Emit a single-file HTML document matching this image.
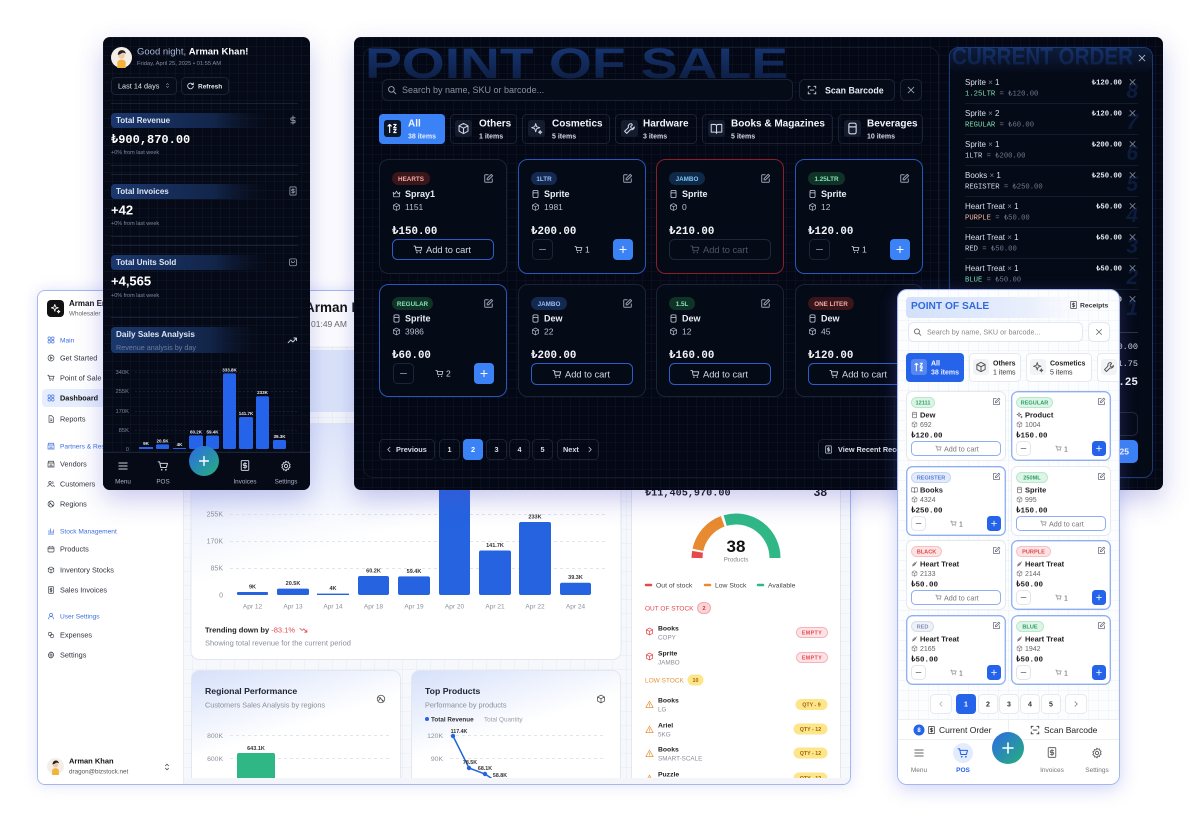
<!DOCTYPE html>
<html><head><meta charset="utf-8">
<style>
*{box-sizing:border-box;margin:0;padding:0}
html,body{width:1200px;height:817px}
body{position:relative;overflow:hidden;background:#fff;font-family:"Liberation Sans",Arial,sans-serif}
.clip{position:absolute;overflow:hidden}
.in{position:absolute;width:1200px;height:817px}
svg.pg{position:absolute;left:0;top:0}
</style></head><body>
<svg width="0" height="0" style="position:absolute">
<defs>
<linearGradient id="bigg" x1="0" y1="0" x2="0" y2="1"><stop offset="0" stop-color="#19397a"/><stop offset="1" stop-color="#0b1a3a"/></linearGradient>
<linearGradient id="bandg" x1="0" y1="0" x2="1" y2="0"><stop offset="0" stop-color="#1b386e"/><stop offset="0.65" stop-color="#122549"/><stop offset="1" stop-color="#0a1224" stop-opacity="0"/></linearGradient>
<linearGradient id="fabg" x1="0" y1="0" x2="1" y2="1"><stop offset="0" stop-color="#2d6ae8"/><stop offset="1" stop-color="#25b07a"/></linearGradient>
<linearGradient id="lband" x1="0" y1="0" x2="1" y2="0"><stop offset="0" stop-color="#d3e0fb"/><stop offset="0.6" stop-color="#e9effc"/><stop offset="1" stop-color="#ffffff" stop-opacity="0"/></linearGradient>
<linearGradient id="cardg" x1="0" y1="0" x2="0.5" y2="1"><stop offset="0" stop-color="#d5e0fa"/><stop offset="0.55" stop-color="#ffffff"/></linearGradient>
<linearGradient id="coh" x1="0" y1="0" x2="0" y2="1"><stop offset="0" stop-color="#0e1d3d"/><stop offset="1" stop-color="#050a17"/></linearGradient>
<symbol id="cart" viewBox="0 0 16 16"><g fill="none" stroke="currentColor" stroke-width="1.4" stroke-linecap="round" stroke-linejoin="round"><path d="M1.5 2.5h2l1.6 7.5h7.4l1.5-5.5H4.2"/></g><circle cx="6.3" cy="13" r="1.1" fill="currentColor"/><circle cx="11.8" cy="13" r="1.1" fill="currentColor"/></symbol>
<symbol id="edit" viewBox="0 0 16 16"><g fill="none" stroke="currentColor" stroke-width="1.4" stroke-linecap="round" stroke-linejoin="round"><path d="M7.5 2.5H3.5a1 1 0 0 0-1 1v9a1 1 0 0 0 1 1h9a1 1 0 0 0 1-1v-4"/><path d="M12 2l2 2-6 6H6V8z"/></g></symbol>
<symbol id="box" viewBox="0 0 16 16"><g fill="none" stroke="currentColor" stroke-width="1.3" stroke-linejoin="round"><path d="M8 1.8l5.5 2.9v6.6L8 14.2l-5.5-2.9V4.7z M2.5 4.7L8 7.6l5.5-2.9 M8 7.6v6.6"/></g></symbol>
<symbol id="cup" viewBox="0 0 16 16"><g fill="none" stroke="currentColor" stroke-width="1.4" stroke-linejoin="round"><rect x="3.5" y="1.5" width="9" height="13" rx="2"/><path d="M3.5 6h9"/></g></symbol>
<symbol id="search" viewBox="0 0 16 16"><g fill="none" stroke="currentColor" stroke-width="1.5" stroke-linecap="round"><circle cx="7" cy="7" r="4.5"/><path d="M10.5 10.5L14 14"/></g></symbol>
<symbol id="x" viewBox="0 0 16 16"><g fill="none" stroke="currentColor" stroke-width="1.4" stroke-linecap="round"><path d="M3.5 3.5l9 9M12.5 3.5l-9 9"/></g></symbol>
<symbol id="scan" viewBox="0 0 16 16"><g fill="none" stroke="currentColor" stroke-width="1.4" stroke-linecap="round"><path d="M2 5V2h3 M11 2h3v3 M14 11v3h-3 M5 14H2v-3 M5 8h6"/></g></symbol>
<symbol id="menu" viewBox="0 0 16 16"><g fill="none" stroke="currentColor" stroke-width="1.4" stroke-linecap="round"><path d="M2.5 4h11M2.5 8h11M2.5 12h11"/></g></symbol>
<symbol id="gear" viewBox="0 0 16 16"><g fill="none" stroke="currentColor" stroke-width="1.3" stroke-linejoin="round"><circle cx="8" cy="8" r="2.2"/><path d="M8 1.5l1.3 1.6 2-.5.5 2 1.7 1.2-.9 1.8.9 1.8-1.7 1.2-.5 2-2-.5L8 14.5l-1.3-1.6-2 .5-.5-2-1.7-1.2.9-1.8-.9-1.8 1.7-1.2.5-2 2 .5z"/></g></symbol>
<symbol id="inv" viewBox="0 0 16 16"><g fill="none" stroke="currentColor" stroke-width="1.3" stroke-linecap="round"><rect x="3" y="1.5" width="10" height="13" rx="1"/><path d="M8 4v8 M10 5.5H7a1.2 1.2 0 0 0 0 2.5h2a1.2 1.2 0 0 1 0 2.5H6"/></g></symbol>
<symbol id="crown" viewBox="0 0 16 16"><g fill="none" stroke="currentColor" stroke-width="1.3" stroke-linejoin="round"><path d="M2 5l3 3 3-5 3 5 3-3-1 8H3z"/></g></symbol>
<symbol id="book" viewBox="0 0 16 16"><g fill="none" stroke="currentColor" stroke-width="1.3" stroke-linejoin="round"><path d="M1.5 3h4.5a2 2 0 0 1 2 2v9a1.5 1.5 0 0 0-1.5-1.5h-5z M14.5 3H10a2 2 0 0 0-2 2v9a1.5 1.5 0 0 1 1.5-1.5h5z"/></g></symbol>
<symbol id="wrench" viewBox="0 0 16 16"><g fill="none" stroke="currentColor" stroke-width="1.3" stroke-linejoin="round"><path d="M10 2a3.5 3.5 0 0 0-3.3 4.7L2 11.4 4.6 14l4.7-4.7A3.5 3.5 0 0 0 14 6l-2 2-2-.5L9.5 5.5 11.5 3.5A3.5 3.5 0 0 0 10 2z"/></g></symbol>
<symbol id="sparkle" viewBox="0 0 16 16"><g fill="none" stroke="currentColor" stroke-width="1.2" stroke-linejoin="round"><path d="M7 2l1.2 3.8L12 7l-3.8 1.2L7 12l-1.2-3.8L2 7l3.8-1.2z M12.5 10.5l.6 1.4 1.4.6-1.4.6-.6 1.4-.6-1.4-1.4-.6 1.4-.6z"/></g></symbol>
<symbol id="sort" viewBox="0 0 16 16"><g fill="none" stroke="currentColor" stroke-width="1.4" stroke-linecap="round" stroke-linejoin="round"><path d="M4.5 13V3 M2.5 5l2-2 2 2 M9.5 3h3l-3 4h3 M9.5 9h3l-3 4h3"/></g></symbol>
<symbol id="candy" viewBox="0 0 16 16"><g fill="none" stroke="currentColor" stroke-width="1.5" stroke-linecap="round"><path d="M3 13l10-10 M4 9l3 3 M6 7l3 3 M8 5l3 3"/></g></symbol>
<symbol id="dollar" viewBox="0 0 16 16"><g fill="none" stroke="currentColor" stroke-width="1.5" stroke-linecap="round"><path d="M8 1.5v13 M11.5 4.5H6.5a2 2 0 0 0 0 4h3a2 2 0 0 1 0 4H4.5"/></g></symbol>
<symbol id="bag" viewBox="0 0 16 16"><g fill="none" stroke="currentColor" stroke-width="1.3" stroke-linecap="round"><rect x="2.5" y="3" width="11" height="11" rx="2"/><path d="M5.5 6.5a2.5 2.5 0 0 0 5 0"/></g></symbol>
<symbol id="trend" viewBox="0 0 16 12"><g fill="none" stroke="currentColor" stroke-width="1.4" stroke-linecap="round" stroke-linejoin="round"><path d="M1.5 10l4-4 3 3 5.5-6 M10 3h4v4"/></g></symbol>
<symbol id="trendd" viewBox="0 0 16 12"><g fill="none" stroke="currentColor" stroke-width="1.4" stroke-linecap="round" stroke-linejoin="round"><path d="M1.5 2l4 4 3-3 5.5 6 M10 9h4V5"/></g></symbol>
<symbol id="globe" viewBox="0 0 16 16"><g fill="none" stroke="currentColor" stroke-width="1.3"><circle cx="8" cy="8" r="6"/><path d="M3.5 4.5l9 7 M4 11l3-5 4 6"/></g></symbol>
<symbol id="chev" viewBox="0 0 16 16"><g fill="none" stroke="currentColor" stroke-width="1.4" stroke-linecap="round"><path d="M5.5 6L8 3.5 10.5 6 M5.5 10L8 12.5 10.5 10"/></g></symbol>
<symbol id="chl" viewBox="0 0 16 16"><path d="M10 3.5L5.5 8l4.5 4.5" fill="none" stroke="currentColor" stroke-width="1.5" stroke-linecap="round"/></symbol>
<symbol id="chr" viewBox="0 0 16 16"><path d="M6 3.5L10.5 8 6 12.5" fill="none" stroke="currentColor" stroke-width="1.5" stroke-linecap="round"/></symbol>
<symbol id="play" viewBox="0 0 16 16"><g fill="none" stroke="currentColor" stroke-width="1.3"><circle cx="8" cy="8" r="6"/><path d="M6.5 5.5v5l4-2.5z"/></g></symbol>
<symbol id="grid4" viewBox="0 0 16 16"><g fill="none" stroke="currentColor" stroke-width="1.3"><rect x="2" y="2" width="5" height="5" rx="1.5"/><rect x="9" y="2" width="5" height="5" rx="1.5"/><rect x="2" y="9" width="5" height="5" rx="1.5"/><rect x="9" y="9" width="5" height="5" rx="1.5"/></g></symbol>
<symbol id="file" viewBox="0 0 16 16"><g fill="none" stroke="currentColor" stroke-width="1.3"><path d="M4 1.5h5.5L13 5v9.5H4z M6.5 8h4 M6.5 11h4"/></g></symbol>
<symbol id="users" viewBox="0 0 16 16"><g fill="none" stroke="currentColor" stroke-width="1.3"><circle cx="6" cy="5.5" r="2.5"/><path d="M1.5 14a4.5 4.5 0 0 1 9 0 M10.5 3.2a2.5 2.5 0 0 1 0 4.8 M12 10a4 4 0 0 1 2.5 4"/></g></symbol>
<symbol id="store" viewBox="0 0 16 16"><g fill="none" stroke="currentColor" stroke-width="1.3"><path d="M2 6l1-3.5h10L14 6v8H2z M2 6h12 M6 14v-4h4v4"/></g></symbol>
<symbol id="chart" viewBox="0 0 16 16"><g fill="none" stroke="currentColor" stroke-width="1.3"><path d="M2 14h12 M4 12V6 M7 12V3 M10 12V8 M13 12V5"/></g></symbol>
<symbol id="user" viewBox="0 0 16 16"><g fill="none" stroke="currentColor" stroke-width="1.3"><circle cx="8" cy="5.5" r="3"/><path d="M2.5 14.5a5.5 5.5 0 0 1 11 0"/></g></symbol>
<symbol id="pkg" viewBox="0 0 16 16"><g fill="none" stroke="currentColor" stroke-width="1.3"><rect x="2" y="4" width="12" height="10" rx="1.5"/><path d="M2 7.5h12 M5.5 4V2 M10.5 4V2"/></g></symbol>
<symbol id="coins" viewBox="0 0 16 16"><g fill="none" stroke="currentColor" stroke-width="1.3"><circle cx="6" cy="6" r="3.5"/><circle cx="10" cy="10" r="3.5"/></g></symbol>
<symbol id="warn" viewBox="0 0 16 16"><g fill="none" stroke="currentColor" stroke-width="1.3" stroke-linejoin="round" stroke-linecap="round"><path d="M8 2L14.5 13.5h-13z M8 6.5v3.5 M8 11.8v.2"/></g></symbol>
<symbol id="refresh" viewBox="0 0 16 16"><g fill="none" stroke="currentColor" stroke-width="1.5" stroke-linecap="round"><path d="M13 8a5 5 0 1 1-1.5-3.6 M13 2.5v3h-3"/></g></symbol>
<symbol id="plus" viewBox="0 0 16 16"><path d="M8 3v10M3 8h10" fill="none" stroke="currentColor" stroke-width="1.6" stroke-linecap="round"/></symbol>
<symbol id="minus" viewBox="0 0 16 16"><path d="M3 8h10" fill="none" stroke="currentColor" stroke-width="1.4" stroke-linecap="round"/></symbol>
<symbol id="ava" viewBox="0 0 20 20"><circle cx="10" cy="10" r="10" fill="#f3efe8"/><path d="M6 20v-5c0-2 2-3 4-3s4 1 4 3v5z" fill="#f2b33d"/><circle cx="10" cy="8" r="3.2" fill="#f1c9a5"/><path d="M6.5 7.5c0-3 2-4.5 4-4.5s3.5 1.5 3.5 3.5c-1-1-3-1.5-4-.5-1 .8-2.5 1.5-3.5 1.5z" fill="#222"/></symbol>
</defs></svg>

<!-- ================= LIGHT DASHBOARD ================= -->
<div class="clip" style="left:37px;top:290px;width:814px;height:495px;border:1px solid #a4b7f0;border-radius:8px;background-color:#f6f8fc;background-image:linear-gradient(rgba(120,140,180,.06) 1px,transparent 1px),linear-gradient(90deg,rgba(120,140,180,.06) 1px,transparent 1px);background-size:14px 14px;box-shadow:0 0 14px rgba(110,120,230,.22);z-index:1">
<div class="in" style="left:-38px;top:-291px">
<svg class="pg" width="1200" height="817" font-family="Liberation Sans, Arial, sans-serif">
<rect x="38" y="291" width="145" height="494" fill="#fff"/>
<line x1="183.5" y1="291" x2="183.5" y2="785" stroke="#e8ecf3"/>
<rect x="47" y="300" width="17" height="17" rx="4" fill="#111"/>
<use href="#sparkle" x="50" y="303" width="11" height="11" color="#fff"/>
<text x="69" y="306" font-size="8" font-weight="bold" fill="#111">Arman Enterprises</text>
<text x="69" y="315.5" font-size="6.3" fill="#666">Wholesaler</text>
<rect x="42" y="389" width="120" height="18" rx="4" fill="#e6edfc"/>
<g font-size="6.6" fill="#3b6fe0">
<use href="#grid4" x="47" y="336" width="8" height="8" color="#3b6fe0"/><text x="60" y="342.4">Main</text>
<use href="#store" x="47" y="442" width="8" height="8" color="#3b6fe0"/><text x="60" y="448.4">Partners &amp; Resellers</text>
<use href="#chart" x="47" y="527" width="8" height="8" color="#3b6fe0"/><text x="60" y="533.4">Stock Management</text>
<use href="#user" x="47" y="612" width="8" height="8" color="#3b6fe0"/><text x="60" y="618.4">User Settings</text>
</g>
<g font-size="7.3" fill="#2d323c" color="#3a3f4a">
<use href="#play" x="47" y="354" width="8" height="8"/><text x="60" y="360.6">Get Started</text>
<use href="#cart" x="47" y="374" width="8" height="8"/><text x="60" y="380.6">Point of Sale</text>
<use href="#grid4" x="47" y="394" width="8" height="8" color="#3b6fe0"/><text x="60" y="400.6" font-weight="bold" fill="#111">Dashboard</text>
<use href="#file" x="47" y="415" width="8" height="8"/><text x="60" y="421.6">Reports</text>
<use href="#store" x="47" y="460" width="8" height="8"/><text x="60" y="466.6">Vendors</text>
<use href="#users" x="47" y="480" width="8" height="8"/><text x="60" y="486.6">Customers</text>
<use href="#globe" x="47" y="500" width="8" height="8"/><text x="60" y="506.6">Regions</text>
<use href="#pkg" x="47" y="545" width="8" height="8"/><text x="60" y="551.6">Products</text>
<use href="#box" x="47" y="566" width="8" height="8"/><text x="60" y="572.6">Inventory Stocks</text>
<use href="#inv" x="47" y="586" width="8" height="8"/><text x="60" y="592.6">Sales Invoices</text>
<use href="#coins" x="47" y="631" width="8" height="8"/><text x="60" y="637.6">Expenses</text>
<use href="#gear" x="47" y="651" width="8" height="8"/><text x="60" y="657.6">Settings</text>
</g>
<use href="#ava" x="47" y="758" width="17" height="17"/>
<text x="69" y="763.5" font-size="7.5" font-weight="bold" fill="#111">Arman Khan</text>
<text x="69" y="773.5" font-size="6.3" fill="#555">dragon@bizstock.net</text>
<use href="#chev" x="162" y="762" width="10" height="10" color="#555"/>

<rect x="184" y="291" width="667" height="55" fill="#fff"/>
<text x="305" y="312" font-size="13.5" font-weight="bold" fill="#111">Arman Khan!</text>
<text x="311" y="327" font-size="8.5" fill="#666">01:49 AM</text>
<rect x="191" y="350" width="650" height="62" rx="8" fill="#dce5fa"/>
<rect x="191" y="423.5" width="430" height="236" rx="8" fill="url(#cardg)" stroke="#e2e7f0"/>
<rect x="631.5" y="423.5" width="209" height="370" rx="8" fill="#fff" stroke="#e2e7f0"/>
<rect x="191.5" y="670.5" width="209" height="130" rx="8" fill="url(#cardg)" stroke="#e2e7f0"/>
<rect x="411.5" y="670.5" width="209" height="130" rx="8" fill="url(#cardg)" stroke="#e2e7f0"/>

<g stroke="#e1e5ec" stroke-dasharray="3 3"><line x1="230" y1="514.5" x2="606" y2="514.5"/><line x1="230" y1="541.5" x2="606" y2="541.5"/><line x1="230" y1="568.5" x2="606" y2="568.5"/></g>
<g font-size="7" fill="#8b909a" text-anchor="end"><text x="223" y="516.5">255K</text><text x="223" y="543.5">170K</text><text x="223" y="570.5">85K</text><text x="223" y="597.5">0</text></g>
<g fill="#2563e0">
<rect x="237" y="592" width="31" height="3" rx="1"/><rect x="277" y="588.6" width="32" height="6.4" rx="1.5"/><rect x="317" y="593.6" width="32" height="1.4"/>
<rect x="358" y="576" width="31" height="19" rx="2"/><rect x="398" y="576.4" width="32" height="18.6" rx="2"/><rect x="439" y="485" width="31" height="110" rx="2"/>
<rect x="479" y="550.5" width="32" height="44.5" rx="2"/><rect x="519" y="522" width="32" height="73" rx="2"/><rect x="560" y="582.7" width="31" height="12.3" rx="2"/>
</g>
<g font-size="5.5" font-weight="bold" fill="#333" text-anchor="middle">
<text x="252.5" y="588.5">9K</text><text x="293" y="585">20.5K</text><text x="333" y="590">4K</text><text x="373.5" y="572.5">60.2K</text><text x="414" y="573">59.4K</text><text x="495" y="547">141.7K</text><text x="535" y="518.5">233K</text><text x="575.5" y="579">39.3K</text>
</g>
<g font-size="6.5" fill="#8b909a" text-anchor="middle">
<text x="252.5" y="608.5">Apr 12</text><text x="293" y="608.5">Apr 13</text><text x="333" y="608.5">Apr 14</text><text x="373.5" y="608.5">Apr 18</text><text x="414" y="608.5">Apr 19</text><text x="454.5" y="608.5">Apr 20</text><text x="495" y="608.5">Apr 21</text><text x="535" y="608.5">Apr 22</text><text x="575.5" y="608.5">Apr 24</text>
</g>
<text x="205" y="632.6" font-size="7.5" font-weight="bold" fill="#222">Trending down by <tspan font-weight="normal" fill="#e5484d">-83.1%</tspan></text>
<use href="#trendd" x="299" y="627" width="9" height="7" color="#e5484d"/>
<text x="205" y="645.6" font-size="7.5" fill="#8a8f99">Showing total revenue for the current period</text>

<text x="205" y="694" font-size="8.7" font-weight="bold" fill="#1d2230">Regional Performance</text>
<text x="205" y="707.5" font-size="7.3" fill="#8a8f99">Customers Sales Analysis by regions</text>
<use href="#globe" x="376" y="694" width="10" height="10" color="#555"/>
<g stroke="#e1e5ec" stroke-dasharray="3 3"><line x1="230" y1="735.5" x2="392" y2="735.5"/><line x1="230" y1="758.5" x2="392" y2="758.5"/></g>
<g font-size="6.8" fill="#8b909a" text-anchor="end"><text x="223" y="737.8">800K</text><text x="223" y="760.8">600K</text></g>
<rect x="237" y="753" width="38" height="40" rx="2" fill="#2fb886"/>
<text x="256" y="750" font-size="5.5" font-weight="bold" fill="#333" text-anchor="middle">643.1K</text>

<text x="425" y="694" font-size="8.7" font-weight="bold" fill="#1d2230">Top Products</text>
<text x="425" y="707.5" font-size="7.3" fill="#8a8f99">Performance by products</text>
<use href="#box" x="596" y="694" width="10" height="10" color="#555"/>
<circle cx="427" cy="719" r="2" fill="#2563e0"/>
<text x="431" y="721.3" font-size="6.3" font-weight="bold" fill="#333">Total Revenue</text>
<text x="484" y="721.3" font-size="6.3" fill="#9a9ea8">Total Quantity</text>
<g stroke="#e1e5ec" stroke-dasharray="3 3"><line x1="450" y1="735.5" x2="606" y2="735.5"/><line x1="450" y1="758.5" x2="606" y2="758.5"/></g>
<g font-size="6.8" fill="#8b909a" text-anchor="end"><text x="443" y="737.8">120K</text><text x="443" y="760.8">90K</text></g>
<polyline points="453,736 469,768 485,774 491,778 505,792" fill="none" stroke="#2563e0" stroke-width="1.5"/>
<g fill="#2563e0"><circle cx="453" cy="736" r="2.2"/><circle cx="469" cy="768" r="2.2"/><circle cx="485" cy="774" r="2.2"/></g>
<g font-size="5.3" font-weight="bold" fill="#333" text-anchor="middle"><text x="459" y="733">117.4K</text><text x="470" y="764">78.5K</text><text x="485" y="770">68.1K</text><text x="500" y="777">58.8K</text></g>

<text x="645" y="495.5" font-size="10.2" font-weight="bold" font-family="Liberation Mono, DejaVu Sans Mono, monospace" fill="#111">₺11,405,970.00</text>
<text x="827" y="496" font-size="12" font-weight="bold" fill="#111" text-anchor="end">38</text>
<g fill="none" stroke-width="11">
<path d="M697 558 A39 39 0 0 1 697.6 551.8" stroke="#e5484d"/>
<path d="M697.9 549.8 A39 39 0 0 1 722.7 521.3" stroke="#e88a2f"/>
<path d="M725.2 520.5 A39 39 0 0 1 775 558" stroke="#2fb886"/>
</g>
<text x="736" y="552" font-size="17" font-weight="bold" fill="#111" text-anchor="middle">38</text>
<text x="736" y="561.5" font-size="6.3" fill="#888" text-anchor="middle">Products</text>
<g stroke-width="2.5" stroke-linecap="round"><line x1="646" y1="585" x2="651" y2="585" stroke="#e5484d"/><line x1="705" y1="585" x2="710" y2="585" stroke="#e88a2f"/><line x1="758" y1="585" x2="763" y2="585" stroke="#2fb886"/></g>
<g font-size="6.8" fill="#444"><text x="656" y="587.5">Out of stock</text><text x="715" y="587.5">Low Stock</text><text x="768" y="587.5">Available</text></g>
<text x="645" y="610.3" font-size="6.5" fill="#e5484d">OUT OF STOCK</text>
<rect x="697.5" y="602.5" width="13" height="11" rx="5.5" fill="#fcd3d6" stroke="#f2a8ae"/>
<text x="704" y="610.2" font-size="5.5" font-weight="bold" fill="#d33" text-anchor="middle">2</text>
<use href="#box" x="645" y="627" width="9" height="9" color="#e5484d"/>
<use href="#box" x="645" y="652" width="9" height="9" color="#e5484d"/>
<g font-size="6.8" font-weight="bold" fill="#222"><text x="658" y="630.5">Books</text><text x="658" y="655.5">Sprite</text><text x="658" y="702.5">Books</text><text x="658" y="727.5">Ariel</text><text x="658" y="751.5">Books</text><text x="658" y="776.5">Puzzle</text></g>
<g font-size="6.3" fill="#8a8f99"><text x="658" y="639.5">COPY</text><text x="658" y="664.5">JAMBO</text><text x="658" y="711.5">LG</text><text x="658" y="736.5">5KG</text><text x="658" y="760.5">SMART-SCALE</text></g>
<g fill="#fde3e6" stroke="#f5b3b9"><rect x="796.5" y="627.5" width="31" height="10" rx="5"/><rect x="796.5" y="652.5" width="31" height="10" rx="5"/></g>
<g font-size="5.3" font-weight="bold" fill="#e5484d" text-anchor="middle" letter-spacing=".4"><text x="812" y="634.6">EMPTY</text><text x="812" y="659.6">EMPTY</text></g>
<text x="645" y="682.3" font-size="6.5" fill="#e8913a">LOW STOCK</text>
<rect x="687.5" y="674.5" width="16" height="11" rx="5.5" fill="#fde68a"/>
<text x="695.5" y="682" font-size="5.3" font-weight="bold" fill="#a16207" text-anchor="middle">10</text>
<g color="#e8913a"><use href="#warn" x="645" y="700" width="9" height="9"/><use href="#warn" x="645" y="725" width="9" height="9"/><use href="#warn" x="645" y="749" width="9" height="9"/><use href="#warn" x="645" y="774" width="9" height="9"/></g>
<g fill="#fde68a"><rect x="795.5" y="699" width="32" height="11" rx="5.5"/><rect x="793.5" y="723.5" width="34" height="11" rx="5.5"/><rect x="793.5" y="747.5" width="34" height="11" rx="5.5"/><rect x="793.5" y="772.5" width="34" height="11" rx="5.5"/></g>
<g font-size="5.3" font-weight="bold" fill="#a16207" text-anchor="middle"><text x="811.5" y="706.5">QTY - 9</text><text x="810.5" y="731">QTY - 12</text><text x="810.5" y="755">QTY - 12</text><text x="810.5" y="780">QTY - 12</text></g>
<rect x="184" y="778" width="667" height="8" fill="#f3f5fa"/>
</svg>
</div></div>

<!-- ================= DARK MOBILE ================= -->
<div class="clip" style="left:103px;top:37px;width:207px;height:453px;border-radius:7px;background-color:#060a16;background-image:linear-gradient(rgba(40,60,110,.13) 1px,transparent 1px),linear-gradient(90deg,rgba(40,60,110,.13) 1px,transparent 1px);background-size:9px 9px;box-shadow:0 10px 26px rgba(80,80,200,.3);z-index:3">
<div class="in" style="left:-103px;top:-37px">
<svg class="pg" width="1200" height="817" font-family="Liberation Sans, Arial, sans-serif">
<use href="#ava" x="111" y="47" width="21" height="21"/>
<text x="137" y="54.5" font-size="9.5" fill="#a9b8d6">Good night, <tspan fill="#fff" font-weight="bold">Arman Khan!</tspan></text>
<text x="137" y="65.2" font-size="5.8" fill="#7e8aa5">Friday, April 25, 2025 • 01:55 AM</text>
<rect x="111.5" y="77.5" width="65" height="17" rx="4" fill="#070c19" stroke="#1b2336"/>
<text x="118" y="88.5" font-size="7.3" fill="#e3e7ef">Last 14 days</text>
<use href="#chev" x="164" y="82" width="7" height="7" color="#8a93a6"/>
<rect x="181.5" y="77.5" width="47" height="17" rx="4" fill="#070c19" stroke="#1b2336"/>
<use href="#refresh" x="186" y="81.5" width="9" height="9" color="#dfe4ee"/>
<text x="198" y="88.3" font-size="6.5" font-weight="bold" fill="#e3e7ef">Refresh</text>
<g stroke="#172034"><line x1="111" y1="103.5" x2="298" y2="103.5"/><line x1="111" y1="165.5" x2="298" y2="165.5"/><line x1="111" y1="174.5" x2="298" y2="174.5"/><line x1="111" y1="236.5" x2="298" y2="236.5"/><line x1="111" y1="245.5" x2="298" y2="245.5"/><line x1="111" y1="317.5" x2="298" y2="317.5"/></g>
<rect x="111" y="113" width="160" height="15" rx="4" fill="url(#bandg)"/>
<rect x="111" y="184" width="160" height="15" rx="4" fill="url(#bandg)"/>
<rect x="111" y="255" width="160" height="15" rx="4" fill="url(#bandg)"/>
<g font-size="8" font-weight="bold" fill="#dfe6f4"><text x="116" y="123.2">Total Revenue</text><text x="116" y="194.2">Total Invoices</text><text x="116" y="265.2">Total Units Sold</text></g>
<use href="#dollar" x="288" y="114" width="10" height="12" color="#8e98ab"/>
<use href="#inv" x="288" y="185" width="10" height="12" color="#8e98ab"/>
<use href="#bag" x="288" y="256" width="10" height="12" color="#8e98ab"/>
<text x="111" y="143.2" font-size="12" font-weight="bold" font-family="Liberation Mono, DejaVu Sans Mono, monospace" fill="#fff">₺900,870.00</text>
<text x="111" y="214.5" font-size="13" font-weight="bold" fill="#fff">+42</text>
<text x="111" y="285.5" font-size="13" font-weight="bold" fill="#fff">+4,565</text>
<g font-size="5.5" fill="#7e8aa5"><text x="111" y="154">+0% from last week</text><text x="111" y="225">+0% from last week</text><text x="111" y="297">+0% from last week</text></g>
<rect x="111" y="327" width="152" height="26" rx="4" fill="url(#bandg)"/>
<text x="116" y="337" font-size="8.2" font-weight="bold" fill="#dfe6f4">Daily Sales Analysis</text>
<text x="116" y="350" font-size="7.2" fill="#6c7b99">Revenue analysis by day</text>
<use href="#trend" x="287" y="336" width="11" height="8" color="#c9d0dd"/>
<g stroke="#151d2e" stroke-dasharray="2 2"><line x1="135" y1="372.5" x2="298" y2="372.5"/><line x1="135" y1="391.5" x2="298" y2="391.5"/><line x1="135" y1="411.5" x2="298" y2="411.5"/><line x1="135" y1="430.5" x2="298" y2="430.5"/></g>
<g font-size="5.8" fill="#7b8499" text-anchor="end"><text x="129" y="374">340K</text><text x="129" y="393">255K</text><text x="129" y="413">170K</text><text x="129" y="432">85K</text><text x="129" y="451">0</text></g>
<g fill="#2563eb">
<rect x="139" y="447" width="14" height="2"/><rect x="156" y="444.4" width="13" height="4.6" rx="1"/><rect x="173" y="448" width="13" height="1"/>
<rect x="189" y="435.4" width="14" height="13.6" rx="1.5"/><rect x="206" y="435.5" width="13" height="13.5" rx="1.5"/><rect x="223" y="373.4" width="13" height="75.6" rx="1.5"/>
<rect x="239" y="417" width="14" height="32" rx="1.5"/><rect x="256" y="396.2" width="13" height="52.8" rx="1.5"/><rect x="273" y="440" width="13" height="9" rx="1.5"/>
</g>
<g font-size="4.5" font-weight="bold" fill="#e6eaf2" text-anchor="middle">
<text x="146" y="445">9K</text><text x="162.5" y="442.4">20.5K</text><text x="179.5" y="446">4K</text><text x="196" y="433.4">60.2K</text><text x="212.5" y="433.5">59.4K</text><text x="229.5" y="371.4">333.8K</text><text x="246" y="415">141.7K</text><text x="262.5" y="394.2">233K</text><text x="279.5" y="438">39.3K</text>
</g>
<rect x="103" y="452" width="207" height="40" fill="#060a16"/>
<line x1="103" y1="452.5" x2="310" y2="452.5" stroke="#1a2233"/>
<g color="#c9d0dd"><use href="#menu" x="117" y="460" width="12" height="12"/><use href="#cart" x="157" y="460" width="12" height="12"/><use href="#inv" x="239" y="459" width="12" height="13"/><use href="#gear" x="280" y="460" width="12" height="12"/></g>
<g font-size="6.3" fill="#aab3c5" text-anchor="middle"><text x="123" y="483.5">Menu</text><text x="163" y="483.5">POS</text><text x="245" y="483.5">Invoices</text><text x="286" y="483.5">Settings</text></g>
<circle cx="204" cy="461" r="15" fill="url(#fabg)"/>
<use href="#plus" x="197" y="454" width="14" height="14" color="#fff"/>
</svg>
</div></div>

<!-- ================= DARK POS ================= -->
<div class="clip" style="left:354px;top:37px;width:809px;height:453px;border-radius:7px;background-color:#040814;background-image:linear-gradient(rgba(40,60,110,.12) 1px,transparent 1px),linear-gradient(90deg,rgba(40,60,110,.12) 1px,transparent 1px);background-size:9px 9px;box-shadow:0 10px 26px rgba(80,80,200,.3);z-index:3">
<div class="in" style="left:-354px;top:-37px">
<svg class="pg" width="1200" height="817" font-family="Liberation Sans, Arial, sans-serif">
<rect x="363.5" y="47.5" width="575" height="430" rx="10" fill="none" stroke="#131a2a"/>
<text x="365" y="78" font-size="43" font-weight="bold" textLength="423" lengthAdjust="spacingAndGlyphs" fill="url(#bigg)">POINT OF SALE</text>
<rect x="382.5" y="79.5" width="410" height="21" rx="5" fill="#060b18" stroke="#1a2234"/>
<use href="#search" x="387" y="85" width="10" height="10" color="#9aa3b5"/>
<text x="402" y="93.2" font-size="9" fill="#8891a4">Search by name, SKU or barcode...</text>
<rect x="799.5" y="79.5" width="95" height="21" rx="5" fill="#060b18" stroke="#1a2234"/>
<use href="#scan" x="807" y="85" width="10" height="10" color="#d0d6e2"/>
<text x="825" y="93.3" font-size="8.8" font-weight="bold" fill="#e6eaf2">Scan Barcode</text>
<rect x="900.5" y="79.5" width="21" height="21" rx="5" fill="#060b18" stroke="#1a2234"/>
<use href="#x" x="906" y="85" width="10" height="10" color="#9aa3b5"/>
<rect x="379" y="114" width="66" height="30" rx="4" fill="#3b82f6"/>
<rect x="384" y="120" width="17" height="17" rx="3" fill="#0b1529"/>
<use href="#sort" x="386" y="122" width="13" height="13" color="#fff"/>
<g fill="none" stroke="#1a2234"><rect x="450.5" y="114.5" width="66" height="29" rx="4"/><rect x="522.5" y="114.5" width="87" height="29" rx="4"/><rect x="615.5" y="114.5" width="81" height="29" rx="4"/><rect x="702.5" y="114.5" width="130" height="29" rx="4"/><rect x="838.5" y="114.5" width="84" height="29" rx="4"/></g>
<g fill="#141c2e"><rect x="455" y="120" width="17" height="17" rx="3"/><rect x="528" y="120" width="17" height="17" rx="3"/><rect x="621" y="120" width="17" height="17" rx="3"/><rect x="708" y="120" width="17" height="17" rx="3"/><rect x="844" y="120" width="17" height="17" rx="3"/></g>
<g color="#cfd5e1"><use href="#box" x="457" y="122" width="13" height="13"/><use href="#sparkle" x="530" y="122" width="13" height="13"/><use href="#wrench" x="623" y="122" width="13" height="13"/><use href="#book" x="710" y="122" width="13" height="13"/><use href="#cup" x="846" y="122" width="13" height="13"/></g>
<g font-size="10" font-weight="bold" fill="#f1f4f9"><text x="408" y="126.5">All</text><text x="479" y="126.5">Others</text><text x="552" y="126.5">Cosmetics</text><text x="643" y="126.5">Hardware</text><text x="731" y="126.5">Books &amp; Magazines</text><text x="867" y="126.5">Beverages</text></g>
<g font-size="7" font-weight="bold" fill="#d5dbe7"><text x="408" y="138.5" fill="#e3edff">38 items</text><text x="479" y="138.5">1 items</text><text x="552" y="138.5">5 items</text><text x="643" y="138.5">3 items</text><text x="731" y="138.5">5 items</text><text x="867" y="138.5">10 items</text></g>

<g transform="translate(379,159)">
<rect x="0.5" y="0.5" width="127" height="114" rx="9" fill="#050a17" stroke="#1b2335"/>
<rect x="13" y="13" width="38" height="13" rx="6.5" fill="#3a1519"/><text x="32" y="21.8" font-size="6.3" font-weight="bold" fill="#f3a9a9" text-anchor="middle">HEARTS</text>
<use href="#edit" x="104" y="14" width="11" height="11" color="#9aa3b5"/>
<use href="#crown" x="13" y="30.5" width="9" height="9" color="#c9d0dd"/><text x="26" y="38.2" font-size="9" font-weight="bold" fill="#e9edf5">Spray1</text>
<use href="#box" x="13" y="43.5" width="9" height="9" color="#a9b2c4"/><text x="26" y="51" font-size="8.5" fill="#b7bfd0">1151</text>
<text x="13" y="74.8" font-size="10.8" font-weight="bold" font-family="Liberation Mono, DejaVu Sans Mono, monospace" fill="#f2f4f8">₺150.00</text>
<rect x="13.5" y="80.5" width="101" height="20" rx="5" fill="none" stroke="#2b5cc9"/>
<use href="#cart" x="34" y="85.5" width="10" height="10" color="#d3d9e6"/><text x="47" y="94" font-size="9.3" fill="#d3d9e6">Add to cart</text>
</g>
<g transform="translate(518,159)">
<rect x="0.5" y="0.5" width="127" height="114" rx="9" fill="#050a17" stroke="#2857b8"/>
<rect x="13" y="13" width="26" height="13" rx="6.5" fill="#13294f"/><text x="26" y="21.8" font-size="6.3" font-weight="bold" fill="#9cbcf5" text-anchor="middle">1LTR</text>
<use href="#edit" x="104" y="14" width="11" height="11" color="#9aa3b5"/>
<use href="#cup" x="13" y="30.5" width="9" height="9" color="#c9d0dd"/><text x="26" y="38.2" font-size="9" font-weight="bold" fill="#e9edf5">Sprite</text>
<use href="#box" x="13" y="43.5" width="9" height="9" color="#a9b2c4"/><text x="26" y="51" font-size="8.5" fill="#b7bfd0">1981</text>
<text x="13" y="74.8" font-size="10.8" font-weight="bold" font-family="Liberation Mono, DejaVu Sans Mono, monospace" fill="#f2f4f8">₺200.00</text>
<rect x="14.5" y="80.5" width="20" height="20" rx="4" fill="none" stroke="#1c2437"/><use href="#minus" x="19.5" y="85.5" width="10" height="10" color="#8891a4"/>
<use href="#cart" x="56" y="86" width="9" height="9" color="#cfd6e4"/><text x="67" y="93.5" font-size="8.5" fill="#cfd6e4">1</text>
<rect x="95" y="80" width="20" height="21" rx="4" fill="#3b82f6"/><use href="#plus" x="100" y="85.5" width="10" height="10" color="#fff"/>
</g>
<g transform="translate(656,159)">
<rect x="0.5" y="0.5" width="127" height="114" rx="9" fill="#050a17" stroke="#8c1d2b"/>
<rect x="13" y="13" width="36" height="13" rx="6.5" fill="#0f2a49"/><text x="31" y="21.8" font-size="6.3" font-weight="bold" fill="#7fc3f5" text-anchor="middle">JAMBO</text>
<use href="#edit" x="104" y="14" width="11" height="11" color="#9aa3b5"/>
<use href="#cup" x="13" y="30.5" width="9" height="9" color="#c9d0dd"/><text x="26" y="38.2" font-size="9" font-weight="bold" fill="#e9edf5">Sprite</text>
<use href="#box" x="13" y="43.5" width="9" height="9" color="#a9b2c4"/><text x="26" y="51" font-size="8.5" fill="#b7bfd0">0</text>
<text x="13" y="74.8" font-size="10.8" font-weight="bold" font-family="Liberation Mono, DejaVu Sans Mono, monospace" fill="#f2f4f8">₺210.00</text>
<rect x="13.5" y="80.5" width="101" height="20" rx="5" fill="none" stroke="#1e2638"/>
<use href="#cart" x="34" y="85.5" width="10" height="10" color="#4d5669"/><text x="47" y="94" font-size="9.3" fill="#4d5669">Add to cart</text>
</g>
<g transform="translate(795,159)">
<rect x="0.5" y="0.5" width="127" height="114" rx="9" fill="#050a17" stroke="#2857b8"/>
<rect x="13" y="13" width="37" height="13" rx="6.5" fill="#0f3327"/><text x="31.5" y="21.8" font-size="6.3" font-weight="bold" fill="#86e0b5" text-anchor="middle">1.25LTR</text>
<use href="#edit" x="104" y="14" width="11" height="11" color="#9aa3b5"/>
<use href="#cup" x="13" y="30.5" width="9" height="9" color="#c9d0dd"/><text x="26" y="38.2" font-size="9" font-weight="bold" fill="#e9edf5">Sprite</text>
<use href="#box" x="13" y="43.5" width="9" height="9" color="#a9b2c4"/><text x="26" y="51" font-size="8.5" fill="#b7bfd0">12</text>
<text x="13" y="74.8" font-size="10.8" font-weight="bold" font-family="Liberation Mono, DejaVu Sans Mono, monospace" fill="#f2f4f8">₺120.00</text>
<rect x="14.5" y="80.5" width="20" height="20" rx="4" fill="none" stroke="#1c2437"/><use href="#minus" x="19.5" y="85.5" width="10" height="10" color="#8891a4"/>
<use href="#cart" x="56" y="86" width="9" height="9" color="#cfd6e4"/><text x="67" y="93.5" font-size="8.5" fill="#cfd6e4">1</text>
<rect x="95" y="80" width="20" height="21" rx="4" fill="#3b82f6"/><use href="#plus" x="100" y="85.5" width="10" height="10" color="#fff"/>
</g>
<g transform="translate(379,284)">
<rect x="0.5" y="0.5" width="127" height="112" rx="9" fill="#050a17" stroke="#2857b8"/>
<rect x="13" y="13" width="41" height="13" rx="6.5" fill="#0f3327"/><text x="33.5" y="21.8" font-size="6.3" font-weight="bold" fill="#86e0b5" text-anchor="middle">REGULAR</text>
<use href="#edit" x="104" y="14" width="11" height="11" color="#9aa3b5"/>
<use href="#cup" x="13" y="30" width="9" height="9" color="#c9d0dd"/><text x="26" y="37.5" font-size="9" font-weight="bold" fill="#e9edf5">Sprite</text>
<use href="#box" x="13" y="43" width="9" height="9" color="#a9b2c4"/><text x="26" y="50.3" font-size="8.5" fill="#b7bfd0">3986</text>
<text x="13" y="74" font-size="10.8" font-weight="bold" font-family="Liberation Mono, DejaVu Sans Mono, monospace" fill="#f2f4f8">₺60.00</text>
<rect x="14.5" y="79.5" width="20" height="20" rx="4" fill="none" stroke="#1c2437"/><use href="#minus" x="19.5" y="84.5" width="10" height="10" color="#8891a4"/>
<use href="#cart" x="56" y="85" width="9" height="9" color="#cfd6e4"/><text x="67" y="92.5" font-size="8.5" fill="#cfd6e4">2</text>
<rect x="95" y="79" width="20" height="21" rx="4" fill="#3b82f6"/><use href="#plus" x="100" y="84.5" width="10" height="10" color="#fff"/>
</g>
<g transform="translate(518,284)">
<rect x="0.5" y="0.5" width="127" height="112" rx="9" fill="#050a17" stroke="#1b2335"/>
<rect x="13" y="13" width="36" height="13" rx="6.5" fill="#13294f"/><text x="31" y="21.8" font-size="6.3" font-weight="bold" fill="#9cbcf5" text-anchor="middle">JAMBO</text>
<use href="#edit" x="104" y="14" width="11" height="11" color="#9aa3b5"/>
<use href="#cup" x="13" y="30" width="9" height="9" color="#c9d0dd"/><text x="26" y="37.5" font-size="9" font-weight="bold" fill="#e9edf5">Dew</text>
<use href="#box" x="13" y="43" width="9" height="9" color="#a9b2c4"/><text x="26" y="50.3" font-size="8.5" fill="#b7bfd0">22</text>
<text x="13" y="74" font-size="10.8" font-weight="bold" font-family="Liberation Mono, DejaVu Sans Mono, monospace" fill="#f2f4f8">₺200.00</text>
<rect x="13.5" y="79.5" width="101" height="21" rx="5" fill="none" stroke="#2b5cc9"/>
<use href="#cart" x="34" y="85" width="10" height="10" color="#d3d9e6"/><text x="47" y="93.5" font-size="9.3" fill="#d3d9e6">Add to cart</text>
</g>
<g transform="translate(656,284)">
<rect x="0.5" y="0.5" width="127" height="112" rx="9" fill="#050a17" stroke="#1b2335"/>
<rect x="13" y="13" width="26" height="13" rx="6.5" fill="#0f3327"/><text x="26" y="21.8" font-size="6.3" font-weight="bold" fill="#86e0b5" text-anchor="middle">1.5L</text>
<use href="#edit" x="104" y="14" width="11" height="11" color="#9aa3b5"/>
<use href="#cup" x="13" y="30" width="9" height="9" color="#c9d0dd"/><text x="26" y="37.5" font-size="9" font-weight="bold" fill="#e9edf5">Dew</text>
<use href="#box" x="13" y="43" width="9" height="9" color="#a9b2c4"/><text x="26" y="50.3" font-size="8.5" fill="#b7bfd0">12</text>
<text x="13" y="74" font-size="10.8" font-weight="bold" font-family="Liberation Mono, DejaVu Sans Mono, monospace" fill="#f2f4f8">₺160.00</text>
<rect x="13.5" y="79.5" width="101" height="21" rx="5" fill="none" stroke="#2b5cc9"/>
<use href="#cart" x="34" y="85" width="10" height="10" color="#d3d9e6"/><text x="47" y="93.5" font-size="9.3" fill="#d3d9e6">Add to cart</text>
</g>
<g transform="translate(795,284)">
<rect x="0.5" y="0.5" width="127" height="112" rx="9" fill="#050a17" stroke="#1b2335"/>
<rect x="13" y="13" width="46" height="13" rx="6.5" fill="#3a1519"/><text x="36" y="21.8" font-size="6.3" font-weight="bold" fill="#f3a9a9" text-anchor="middle">ONE LITER</text>
<use href="#edit" x="104" y="14" width="11" height="11" color="#9aa3b5"/>
<use href="#cup" x="13" y="30" width="9" height="9" color="#c9d0dd"/><text x="26" y="37.5" font-size="9" font-weight="bold" fill="#e9edf5">Dew</text>
<use href="#box" x="13" y="43" width="9" height="9" color="#a9b2c4"/><text x="26" y="50.3" font-size="8.5" fill="#b7bfd0">45</text>
<text x="13" y="74" font-size="10.8" font-weight="bold" font-family="Liberation Mono, DejaVu Sans Mono, monospace" fill="#f2f4f8">₺120.00</text>
<rect x="13.5" y="79.5" width="101" height="21" rx="5" fill="none" stroke="#2b5cc9"/>
<use href="#cart" x="34" y="85" width="10" height="10" color="#d3d9e6"/><text x="47" y="93.5" font-size="9.3" fill="#d3d9e6">Add to cart</text>
</g>
<g fill="none" stroke="#1a2234"><rect x="379.5" y="439.5" width="55" height="20" rx="4"/><rect x="439.5" y="439.5" width="20" height="20" rx="4"/><rect x="486.5" y="439.5" width="20" height="20" rx="4"/><rect x="509.5" y="439.5" width="20" height="20" rx="4"/><rect x="532.5" y="439.5" width="20" height="20" rx="4"/><rect x="557.5" y="439.5" width="41" height="20" rx="4"/><rect x="818.5" y="439.5" width="118" height="20" rx="4"/></g>
<rect x="463" y="439" width="20" height="21" rx="4" fill="#3b82f6"/>
<use href="#chl" x="385" y="445.5" width="8" height="8" color="#c9d0dd"/><use href="#chr" x="586" y="445.5" width="8" height="8" color="#c9d0dd"/>
<g font-size="7.3" font-weight="bold" fill="#d8dde8"><text x="396" y="452">Previous</text><text x="563" y="452">Next</text><text x="838" y="452.2">View Recent Receipts</text></g>
<g font-size="7.3" font-weight="bold" fill="#d8dde8" text-anchor="middle"><text x="449.5" y="452">1</text><text x="473" y="452" fill="#fff">2</text><text x="496.5" y="452">3</text><text x="519.5" y="452">4</text><text x="542.5" y="452">5</text></g>
<use href="#inv" x="824" y="444" width="9" height="11" color="#c9d0dd"/>

<rect x="949.5" y="47.5" width="203" height="430" rx="9" fill="#050a17" stroke="#1d3a78"/>
<rect x="950" y="48" width="202" height="26" rx="9" fill="url(#coh)"/>
<text x="952" y="64.5" font-size="24" font-weight="bold" textLength="181" lengthAdjust="spacingAndGlyphs" fill="url(#bigg)">CURRENT ORDER</text>
<use href="#x" x="1137" y="53" width="10" height="10" color="#b0b8c8"/>
<g font-size="21" font-weight="bold" font-style="italic" fill="#0c1c3c" text-anchor="end">
<text x="1138" y="98">8</text><text x="1138" y="129">7</text><text x="1138" y="160">6</text><text x="1138" y="191">5</text><text x="1138" y="222">4</text><text x="1138" y="253">3</text><text x="1138" y="284">2</text><text x="1138" y="315">1</text>
</g>
<g stroke="#141c2d"><line x1="965" y1="103.5" x2="1138" y2="103.5"/><line x1="965" y1="134.5" x2="1138" y2="134.5"/><line x1="965" y1="165.5" x2="1138" y2="165.5"/><line x1="965" y1="196.5" x2="1138" y2="196.5"/><line x1="965" y1="227.5" x2="1138" y2="227.5"/><line x1="965" y1="258.5" x2="1138" y2="258.5"/><line x1="965" y1="289.5" x2="1138" y2="289.5"/></g>
<g font-size="8" fill="#d9dfeb">
<text x="965" y="84.8">Sprite <tspan fill="#7a8396">×</tspan> 1</text>
<text x="965" y="115.8">Sprite <tspan fill="#7a8396">×</tspan> 2</text>
<text x="965" y="146.8">Sprite <tspan fill="#7a8396">×</tspan> 1</text>
<text x="965" y="177.8">Books <tspan fill="#7a8396">×</tspan> 1</text>
<text x="965" y="208.8">Heart Treat <tspan fill="#7a8396">×</tspan> 1</text>
<text x="965" y="239.8">Heart Treat <tspan fill="#7a8396">×</tspan> 1</text>
<text x="965" y="270.8">Heart Treat <tspan fill="#7a8396">×</tspan> 1</text>
<text x="965" y="301.8">Heart Treat <tspan fill="#7a8396">×</tspan> 1</text>
</g>
<g font-size="7.2" font-family="Liberation Mono, DejaVu Sans Mono, monospace" fill="#6f788b">
<text x="965" y="95.6"><tspan fill="#7fdcae">1.25LTR</tspan> = ₺120.00</text>
<text x="965" y="126.6"><tspan fill="#7fdcae">REGULAR</tspan> = ₺60.00</text>
<text x="965" y="157.6"><tspan fill="#d6dcf0">1LTR</tspan> = ₺200.00</text>
<text x="965" y="188.6"><tspan fill="#d6dcf0">REGISTER</tspan> = ₺250.00</text>
<text x="965" y="219.6"><tspan fill="#f1b8a4">PURPLE</tspan> = ₺50.00</text>
<text x="965" y="250.6"><tspan fill="#d6dcf0">RED</tspan> = ₺50.00</text>
<text x="965" y="281.6"><tspan fill="#7fdcae">BLUE</tspan> = ₺50.00</text>
<text x="965" y="312.6"><tspan fill="#d6dcf0">BLACK</tspan> = ₺50.00</text>
</g>
<g font-size="7.2" font-weight="bold" font-family="Liberation Mono, DejaVu Sans Mono, monospace" fill="#e4e8f0" text-anchor="end">
<text x="1122" y="84.6">₺120.00</text><text x="1122" y="115.6">₺120.00</text><text x="1122" y="146.6">₺200.00</text><text x="1122" y="177.6">₺250.00</text><text x="1122" y="208.6">₺50.00</text><text x="1122" y="239.6">₺50.00</text><text x="1122" y="270.6">₺50.00</text><text x="1122" y="301.6">₺50.00</text>
</g>
<g color="#8a93a6"><use href="#x" x="1128" y="77.5" width="9" height="9"/><use href="#x" x="1128" y="108.5" width="9" height="9"/><use href="#x" x="1128" y="139.5" width="9" height="9"/><use href="#x" x="1128" y="170.5" width="9" height="9"/><use href="#x" x="1128" y="201.5" width="9" height="9"/><use href="#x" x="1128" y="232.5" width="9" height="9"/><use href="#x" x="1128" y="263.5" width="9" height="9"/><use href="#x" x="1128" y="294.5" width="9" height="9"/></g>
<line x1="965" y1="332.5" x2="1138" y2="332.5" stroke="#2a3245"/>
<g font-family="Liberation Mono, DejaVu Sans Mono, monospace" text-anchor="end">
<text x="1138" y="349" font-size="8.5" fill="#cfd5e1">₺1,090.00</text>
<text x="1138" y="366" font-size="8.5" fill="#cfd5e1">₺51.75</text>
<text x="1138" y="385" font-size="11" font-weight="bold" fill="#f0f3f8">₺1,141.25</text>
</g>
<rect x="965.5" y="412.5" width="172" height="23" rx="5" fill="none" stroke="#1f2738"/>
<rect x="965" y="440" width="173" height="23" rx="5" fill="#3b82f6"/>
<text x="1129" y="454.5" font-size="8.5" font-weight="bold" fill="#fff" text-anchor="end">Place Order ₺1,141.25</text>
</svg>
</div></div>

<!-- ================= LIGHT MOBILE POS ================= -->
<div class="clip" style="left:897px;top:289px;width:223px;height:496px;border:1px solid #a4b7f0;border-radius:10px;background-color:#fcfdff;background-image:linear-gradient(rgba(120,140,180,.06) 1px,transparent 1px),linear-gradient(90deg,rgba(120,140,180,.06) 1px,transparent 1px);background-size:10px 10px;box-shadow:0 4px 18px rgba(100,110,230,.3);z-index:4">
<div class="in" style="left:-898px;top:-290px">
<svg class="pg" width="1200" height="817" font-family="Liberation Sans, Arial, sans-serif">
<rect x="906" y="297" width="205" height="21" rx="4" fill="url(#lband)"/>
<text x="911" y="308.8" font-size="10.2" font-weight="bold" fill="#2f6ae0">POINT OF SALE</text>
<use href="#inv" x="1069" y="300" width="9" height="10" color="#444"/>
<text x="1080" y="307.6" font-size="6.8" font-weight="bold" fill="#333">Receipts</text>
<rect x="908.5" y="322.5" width="174" height="19" rx="5" fill="#fff" stroke="#e3e7ee"/>
<use href="#search" x="913" y="327.5" width="9" height="9" color="#666"/>
<text x="927" y="334.6" font-size="7.2" fill="#888">Search by name, SKU or barcode...</text>
<rect x="1088.5" y="322.5" width="21" height="19" rx="5" fill="#fff" stroke="#e3e7ee"/>
<use href="#x" x="1094.5" y="327.5" width="9" height="9" color="#666"/>
<rect x="906" y="353" width="58" height="29" rx="4" fill="#2563eb"/>
<rect x="911" y="359" width="16" height="16" rx="3" fill="#5687ef"/>
<use href="#sort" x="913" y="361" width="12" height="12" color="#fff"/>
<g fill="#fff" stroke="#e6e9f0"><rect x="969.5" y="353.5" width="51" height="28" rx="4"/><rect x="1026.5" y="353.5" width="65" height="28" rx="4"/><rect x="1097.5" y="353.5" width="40" height="28" rx="4"/></g>
<g fill="#f1f3f7"><rect x="973" y="359" width="16" height="16" rx="3"/><rect x="1030" y="359" width="16" height="16" rx="3"/><rect x="1101" y="359" width="16" height="16" rx="3"/></g>
<g color="#555"><use href="#box" x="975" y="361" width="12" height="12"/><use href="#sparkle" x="1032" y="361" width="12" height="12"/><use href="#wrench" x="1103" y="361" width="12" height="12"/></g>
<g font-size="7" font-weight="bold"><text x="931" y="365.5" fill="#fff">All</text><text x="931" y="374.5" fill="#e6eeff">38 items</text>
<text x="993" y="365.5" fill="#222">Others</text><text x="993" y="374.5" fill="#333" font-weight="normal">1 items</text>
<text x="1050" y="365.5" fill="#222">Cosmetics</text><text x="1050" y="374.5" fill="#333" font-weight="normal">5 items</text></g>

<g transform="translate(906,391)">
<rect x="0.5" y="0.5" width="99" height="69" rx="6" fill="#fff" stroke="#e4e8ef"/>
<rect x="5.5" y="6.5" width="23" height="10" rx="5" fill="#dcf5e7" stroke="#b7e8cc"/><text x="17" y="13.6" font-size="5.6" font-weight="bold" fill="#2f9e65" text-anchor="middle">12111</text>
<use href="#edit" x="86" y="6" width="9" height="9" color="#6b7280"/>
<use href="#cup" x="5" y="20.5" width="7" height="7" color="#555"/><text x="14" y="26.6" font-size="7.5" font-weight="bold" fill="#222">Dew</text>
<use href="#box" x="5" y="30" width="7" height="7" color="#777"/><text x="14" y="36" font-size="7" fill="#666">692</text>
<text x="5" y="46.7" font-size="7.5" font-weight="bold" font-family="Liberation Mono, DejaVu Sans Mono, monospace" fill="#222">₺120.00</text>
<rect x="5.5" y="50.5" width="89" height="14" rx="4" fill="#fff" stroke="#8eaef2"/>
<use href="#cart" x="29" y="54" width="7" height="7" color="#777"/><text x="38" y="60.3" font-size="7.2" fill="#777">Add to cart</text>
</g>
<g transform="translate(1011,391)">
<rect x="0.7" y="0.7" width="98.6" height="68.6" rx="6" fill="#fff" stroke="#8eaef2" stroke-width="1.3"/>
<rect x="5.5" y="6.5" width="36" height="10" rx="5" fill="#dcf5e7" stroke="#b7e8cc"/><text x="23.5" y="13.6" font-size="5.6" font-weight="bold" fill="#2f9e65" text-anchor="middle">REGULAR</text>
<use href="#edit" x="86" y="6" width="9" height="9" color="#6b7280"/>
<use href="#sparkle" x="5" y="20.5" width="7" height="7" color="#555"/><text x="14" y="26.6" font-size="7.5" font-weight="bold" fill="#222">Product</text>
<use href="#box" x="5" y="30" width="7" height="7" color="#777"/><text x="14" y="36" font-size="7" fill="#666">1004</text>
<text x="5" y="46.7" font-size="7.5" font-weight="bold" font-family="Liberation Mono, DejaVu Sans Mono, monospace" fill="#222">₺150.00</text>
<rect x="5.5" y="50.5" width="14" height="14" rx="4" fill="#fff" stroke="#e1e5ec"/><use href="#minus" x="8.5" y="53.5" width="8" height="8" color="#666"/>
<use href="#cart" x="44" y="54" width="7" height="7" color="#777"/><text x="53" y="60.3" font-size="7" fill="#555">1</text>
<rect x="81" y="50" width="14" height="15" rx="3.5" fill="#2563eb"/><use href="#plus" x="84" y="53.5" width="8" height="8" color="#fff"/>
</g>
<g transform="translate(906,466)">
<rect x="0.7" y="0.7" width="98.6" height="68.6" rx="6" fill="#fff" stroke="#8eaef2" stroke-width="1.3"/>
<rect x="5.5" y="6.5" width="39" height="10" rx="5" fill="#e3ebfb" stroke="#c5d5f6"/><text x="25" y="13.6" font-size="5.6" font-weight="bold" fill="#5a7fd8" text-anchor="middle">REGISTER</text>
<use href="#edit" x="86" y="6" width="9" height="9" color="#6b7280"/>
<use href="#book" x="5" y="20.5" width="7" height="7" color="#555"/><text x="14" y="26.6" font-size="7.5" font-weight="bold" fill="#222">Books</text>
<use href="#box" x="5" y="30" width="7" height="7" color="#777"/><text x="14" y="36" font-size="7" fill="#666">4324</text>
<text x="5" y="46.7" font-size="7.5" font-weight="bold" font-family="Liberation Mono, DejaVu Sans Mono, monospace" fill="#222">₺250.00</text>
<rect x="5.5" y="50.5" width="14" height="14" rx="4" fill="#fff" stroke="#e1e5ec"/><use href="#minus" x="8.5" y="53.5" width="8" height="8" color="#666"/>
<use href="#cart" x="44" y="54" width="7" height="7" color="#777"/><text x="53" y="60.3" font-size="7" fill="#555">1</text>
<rect x="81" y="50" width="14" height="15" rx="3.5" fill="#2563eb"/><use href="#plus" x="84" y="53.5" width="8" height="8" color="#fff"/>
</g>
<g transform="translate(1011,466)">
<rect x="0.5" y="0.5" width="99" height="69" rx="6" fill="#fff" stroke="#e4e8ef"/>
<rect x="5.5" y="6.5" width="31" height="10" rx="5" fill="#dcf5e7" stroke="#b7e8cc"/><text x="21" y="13.6" font-size="5.6" font-weight="bold" fill="#2f9e65" text-anchor="middle">250ML</text>
<use href="#edit" x="86" y="6" width="9" height="9" color="#6b7280"/>
<use href="#cup" x="5" y="20.5" width="7" height="7" color="#555"/><text x="14" y="26.6" font-size="7.5" font-weight="bold" fill="#222">Sprite</text>
<use href="#box" x="5" y="30" width="7" height="7" color="#777"/><text x="14" y="36" font-size="7" fill="#666">995</text>
<text x="5" y="46.7" font-size="7.5" font-weight="bold" font-family="Liberation Mono, DejaVu Sans Mono, monospace" fill="#222">₺150.00</text>
<rect x="5.5" y="50.5" width="89" height="14" rx="4" fill="#fff" stroke="#8eaef2"/>
<use href="#cart" x="29" y="54" width="7" height="7" color="#777"/><text x="38" y="60.3" font-size="7.2" fill="#777">Add to cart</text>
</g>
<g transform="translate(906,540)">
<rect x="0.5" y="0.5" width="99" height="69" rx="6" fill="#fff" stroke="#e4e8ef"/>
<rect x="5.5" y="6.5" width="30" height="10" rx="5" fill="#fde3e3" stroke="#f6c1c3"/><text x="20.5" y="13.6" font-size="5.6" font-weight="bold" fill="#e0484d" text-anchor="middle">BLACK</text>
<use href="#edit" x="86" y="6" width="9" height="9" color="#6b7280"/>
<use href="#candy" x="5" y="20.5" width="7" height="7" color="#555"/><text x="14" y="26.6" font-size="7.5" font-weight="bold" fill="#222">Heart Treat</text>
<use href="#box" x="5" y="30" width="7" height="7" color="#777"/><text x="14" y="36" font-size="7" fill="#666">2133</text>
<text x="5" y="46.7" font-size="7.5" font-weight="bold" font-family="Liberation Mono, DejaVu Sans Mono, monospace" fill="#222">₺50.00</text>
<rect x="5.5" y="50.5" width="89" height="14" rx="4" fill="#fff" stroke="#8eaef2"/>
<use href="#cart" x="29" y="54" width="7" height="7" color="#777"/><text x="38" y="60.3" font-size="7.2" fill="#777">Add to cart</text>
</g>
<g transform="translate(1011,540)">
<rect x="0.7" y="0.7" width="98.6" height="68.6" rx="6" fill="#fff" stroke="#8eaef2" stroke-width="1.3"/>
<rect x="5.5" y="6.5" width="34" height="10" rx="5" fill="#fde3e3" stroke="#f6c1c3"/><text x="22.5" y="13.6" font-size="5.6" font-weight="bold" fill="#e0484d" text-anchor="middle">PURPLE</text>
<use href="#edit" x="86" y="6" width="9" height="9" color="#6b7280"/>
<use href="#candy" x="5" y="20.5" width="7" height="7" color="#555"/><text x="14" y="26.6" font-size="7.5" font-weight="bold" fill="#222">Heart Treat</text>
<use href="#box" x="5" y="30" width="7" height="7" color="#777"/><text x="14" y="36" font-size="7" fill="#666">2144</text>
<text x="5" y="46.7" font-size="7.5" font-weight="bold" font-family="Liberation Mono, DejaVu Sans Mono, monospace" fill="#222">₺50.00</text>
<rect x="5.5" y="50.5" width="14" height="14" rx="4" fill="#fff" stroke="#e1e5ec"/><use href="#minus" x="8.5" y="53.5" width="8" height="8" color="#666"/>
<use href="#cart" x="44" y="54" width="7" height="7" color="#777"/><text x="53" y="60.3" font-size="7" fill="#555">1</text>
<rect x="81" y="50" width="14" height="15" rx="3.5" fill="#2563eb"/><use href="#plus" x="84" y="53.5" width="8" height="8" color="#fff"/>
</g>
<g transform="translate(906,615)">
<rect x="0.7" y="0.7" width="98.6" height="68.6" rx="6" fill="#fff" stroke="#8eaef2" stroke-width="1.3"/>
<rect x="5.5" y="6.5" width="22" height="10" rx="5" fill="#eef1f7" stroke="#d6dcea"/><text x="16.5" y="13.6" font-size="5.6" font-weight="bold" fill="#8090b0" text-anchor="middle">RED</text>
<use href="#edit" x="86" y="6" width="9" height="9" color="#6b7280"/>
<use href="#candy" x="5" y="20.5" width="7" height="7" color="#555"/><text x="14" y="26.6" font-size="7.5" font-weight="bold" fill="#222">Heart Treat</text>
<use href="#box" x="5" y="30" width="7" height="7" color="#777"/><text x="14" y="36" font-size="7" fill="#666">2165</text>
<text x="5" y="46.7" font-size="7.5" font-weight="bold" font-family="Liberation Mono, DejaVu Sans Mono, monospace" fill="#222">₺50.00</text>
<rect x="5.5" y="50.5" width="14" height="14" rx="4" fill="#fff" stroke="#e1e5ec"/><use href="#minus" x="8.5" y="53.5" width="8" height="8" color="#666"/>
<use href="#cart" x="44" y="54" width="7" height="7" color="#777"/><text x="53" y="60.3" font-size="7" fill="#555">1</text>
<rect x="81" y="50" width="14" height="15" rx="3.5" fill="#2563eb"/><use href="#plus" x="84" y="53.5" width="8" height="8" color="#fff"/>
</g>
<g transform="translate(1011,615)">
<rect x="0.7" y="0.7" width="98.6" height="68.6" rx="6" fill="#fff" stroke="#8eaef2" stroke-width="1.3"/>
<rect x="5.5" y="6.5" width="27" height="10" rx="5" fill="#dcf5e7" stroke="#b7e8cc"/><text x="19" y="13.6" font-size="5.6" font-weight="bold" fill="#2f9e65" text-anchor="middle">BLUE</text>
<use href="#edit" x="86" y="6" width="9" height="9" color="#6b7280"/>
<use href="#candy" x="5" y="20.5" width="7" height="7" color="#555"/><text x="14" y="26.6" font-size="7.5" font-weight="bold" fill="#222">Heart Treat</text>
<use href="#box" x="5" y="30" width="7" height="7" color="#777"/><text x="14" y="36" font-size="7" fill="#666">1942</text>
<text x="5" y="46.7" font-size="7.5" font-weight="bold" font-family="Liberation Mono, DejaVu Sans Mono, monospace" fill="#222">₺50.00</text>
<rect x="5.5" y="50.5" width="14" height="14" rx="4" fill="#fff" stroke="#e1e5ec"/><use href="#minus" x="8.5" y="53.5" width="8" height="8" color="#666"/>
<use href="#cart" x="44" y="54" width="7" height="7" color="#777"/><text x="53" y="60.3" font-size="7" fill="#555">1</text>
<rect x="81" y="50" width="14" height="15" rx="3.5" fill="#2563eb"/><use href="#plus" x="84" y="53.5" width="8" height="8" color="#fff"/>
</g>
<g fill="#fff" stroke="#e6e9f0"><rect x="930.5" y="694.5" width="21" height="19" rx="4"/><rect x="978.5" y="694.5" width="19" height="19" rx="4"/><rect x="999.5" y="694.5" width="19" height="19" rx="4"/><rect x="1020.5" y="694.5" width="19" height="19" rx="4"/><rect x="1041.5" y="694.5" width="19" height="19" rx="4"/><rect x="1065.5" y="694.5" width="21" height="19" rx="4"/></g>
<rect x="956" y="694" width="20" height="20" rx="4" fill="#2563eb"/>
<use href="#chl" x="937" y="700" width="8" height="8" color="#aaa"/><use href="#chr" x="1072" y="700" width="8" height="8" color="#777"/>
<g font-size="7" font-weight="bold" fill="#333" text-anchor="middle"><text x="966" y="706.5" fill="#fff">1</text><text x="988" y="706.5">2</text><text x="1009" y="706.5">3</text><text x="1030" y="706.5">4</text><text x="1051" y="706.5">5</text></g>
<rect x="898" y="719" width="221" height="66" fill="#fff"/>
<line x1="898" y1="719.5" x2="1119" y2="719.5" stroke="#eceff4"/>
<circle cx="919" cy="730" r="5.5" fill="#2563eb"/>
<text x="919" y="732.2" font-size="6" font-weight="bold" fill="#fff" text-anchor="middle">8</text>
<use href="#inv" x="927" y="725" width="9" height="10" color="#333"/>
<text x="939" y="733" font-size="8.5" fill="#222">Current Order</text>
<line x1="1008.5" y1="720" x2="1008.5" y2="739" stroke="#eceff4"/>
<use href="#scan" x="1030" y="725" width="10" height="10" color="#333"/>
<text x="1044" y="733" font-size="8.5" fill="#222">Scan Barcode</text>
<line x1="898" y1="739.5" x2="1119" y2="739.5" stroke="#eceff4"/>
<circle cx="963" cy="753" r="10" fill="#e3ecfd"/>
<g color="#666"><use href="#menu" x="913" y="747" width="12" height="12"/><use href="#inv" x="1046" y="746" width="12" height="13"/><use href="#gear" x="1091" y="747" width="12" height="12"/></g>
<use href="#cart" x="957" y="747" width="12" height="12" color="#2563eb"/>
<g font-size="6.5" fill="#777" text-anchor="middle"><text x="919" y="772">Menu</text><text x="963" y="772" font-weight="bold" fill="#2563eb">POS</text><text x="1052" y="772">Invoices</text><text x="1097" y="772">Settings</text></g>
<circle cx="1008" cy="748" r="16" fill="url(#fabg)"/>
<use href="#plus" x="1000" y="740" width="16" height="16" color="#fff"/>
</svg>
</div></div>
</body></html>
